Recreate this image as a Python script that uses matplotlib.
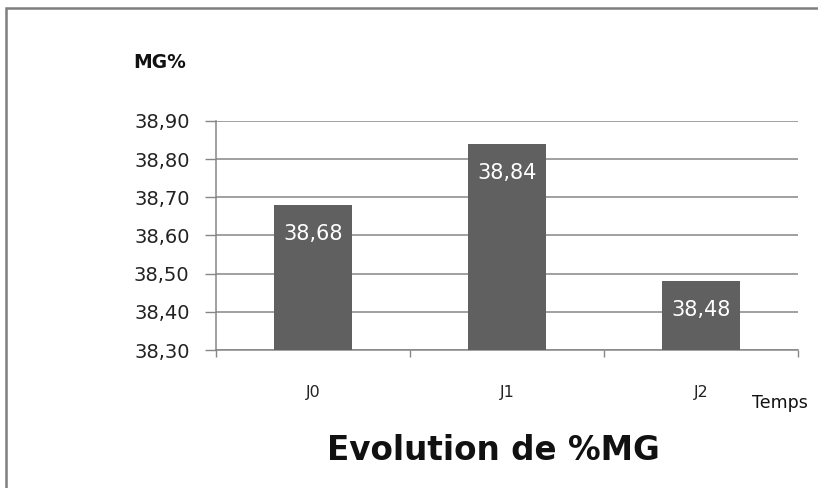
import matplotlib.pyplot as plt
from matplotlib.patches import Rectangle

categories = ['J0', 'J1', 'J2']
values = [38.68, 38.84, 38.48]
yticks = [38.30, 38.40, 38.50, 38.60, 38.70, 38.80, 38.90]

grey = '#868686'
barcol = '#606060'

fig = plt.figure(figsize=(8.18, 4.88), dpi=100)
# outer chart frame (cut off at right and bottom)
fig.patches.append(Rectangle((6/818, -0.1), 1.2, 1 - 8/488 + 0.1, transform=fig.transFigure,
                             fill=False, edgecolor='#7f7f7f', lw=1.8))

ax = fig.add_axes([216/818, 1 - 350/488, 582/818, 229/488])
x = range(len(categories))
bars = ax.bar(x, values, width=0.4, color=barcol, zorder=3)
ax.set_xlim(-0.5, 2.5)
ax.set_ylim(38.30, 38.90)
ax.set_yticks(yticks)
ax.set_yticklabels([('%.2f' % t).replace('.', ',') for t in yticks], fontsize=14, color='#222222')
ax.yaxis.grid(True, color=grey, lw=1.1, zorder=0)
ax.tick_params(axis='y', length=8, color=grey, width=1, pad=11)

ax.set_xticks(list(x))
ax.set_xticklabels(categories, fontsize=11.5, color='#222222')
ax.set_xticks([-0.5, 0.5, 1.5, 2.5], minor=True)
ax.tick_params(axis='x', which='major', length=0, pad=25)
ax.tick_params(axis='x', which='minor', length=5, color=grey, width=1)

for s in ['top', 'right']:
    ax.spines[s].set_visible(False)
for s in ['left', 'bottom']:
    ax.spines[s].set_color(grey)
    ax.spines[s].set_linewidth(1.1)

for b, v in zip(bars, values):
    ax.annotate(('%.2f' % v).replace('.', ','), (b.get_x() + b.get_width() / 2, v),
                xytext=(0, -21), textcoords='offset points', ha='center', va='center',
                color='white', fontsize=15, zorder=4)

fig.text(160/818, 1 - 62/488, 'MG%', fontsize=13.5, fontweight='bold', ha='center', va='center', color='#111111')
fig.text(780/818, 1 - 403/488, 'Temps', fontsize=12.5, ha='center', va='center', color='#111111')
fig.text(493/818, 1 - 450/488, 'Evolution de %MG', fontsize=23.5, fontweight='bold', ha='center', va='center',
         color='#111111')

fig.savefig('out.png', dpi=100)
